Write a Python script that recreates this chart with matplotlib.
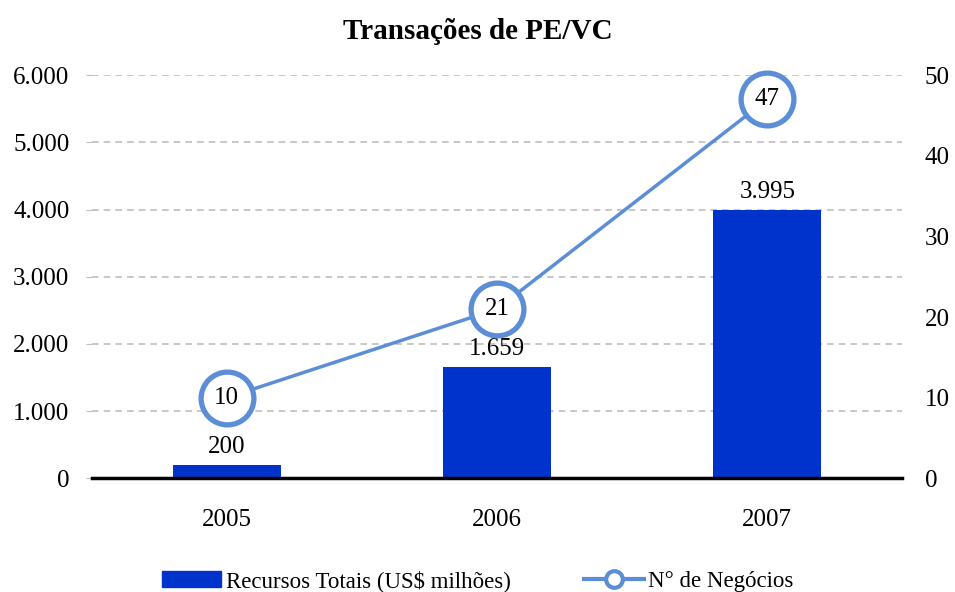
import matplotlib.pyplot as plt
from matplotlib.ticker import FuncFormatter
from matplotlib.lines import Line2D
from matplotlib.patches import Patch

plt.rcParams['font.family'] = ['Liberation Serif', 'DejaVu Serif']

anos = ["2005", "2006", "2007"]
recursos = [200, 1659, 3995]
negocios = [10, 21, 47]
recursos_labels = ["200", "1.659", "3.995"]

bar_color = "#0033CC"
line_color = "#5B8ED6"

fig = plt.figure(figsize=(9.55, 5.92), dpi=100)
ax = fig.add_axes([0.096, 0.192, 0.849, 0.681])
ax2 = ax.twinx()

x = list(range(len(anos)))
ax.bar(x, recursos, width=0.4, color=bar_color, zorder=2)
for xi, v, lab in zip(x, recursos, recursos_labels):
    ax.annotate(lab, (xi, v), xytext=(0, 5), textcoords="offset points",
                ha="center", va="bottom", fontsize=18)

ax.set_xlim(-0.5, 2.5)
ax.set_ylim(0, 6000)
ax.set_yticks(range(0, 6001, 1000))
ax.yaxis.set_major_formatter(FuncFormatter(lambda v, p: f"{int(v):,}".replace(",", ".")))
ax.set_xticks(x)
ax.set_xticklabels(anos)
ax.grid(axis="y", color="#BFBFBF", linestyle=(0, (4, 3)), linewidth=1.2, zorder=0)
ax.set_axisbelow(True)
for s in ["top", "left", "right"]:
    ax.spines[s].set_visible(False)
ax.spines["bottom"].set_linewidth(2.5)
ax.tick_params(axis="x", length=0, labelsize=18, pad=22)
ax.tick_params(axis="y", length=4, color="#BFBFBF", labelsize=18, pad=12)

ax2.plot(x, negocios, color=line_color, linewidth=2.5, marker="o", markersize=38,
         markerfacecolor="white", markeredgecolor=line_color, markeredgewidth=3.8,
         zorder=3, clip_on=False)
for xi, v in zip(x, negocios):
    ax2.text(xi, v, str(v), ha="center", va="center", fontsize=18, zorder=4)
ax2.set_ylim(0, 50)
ax2.set_yticks(range(0, 51, 10))
for s in ["top", "left", "right", "bottom"]:
    ax2.spines[s].set_visible(False)
ax2.tick_params(axis="y", length=0, labelsize=18, pad=16)

fig.suptitle("Transações de PE/VC", fontsize=21, fontweight="bold", y=0.97)

handles = [Patch(color=bar_color),
           Line2D([0], [0], color=line_color, linewidth=3, marker="o", markersize=12,
                  markerfacecolor="white", markeredgecolor=line_color, markeredgewidth=3)]
fig.legend(handles, ["Recursos Totais (US$ milhões)", "N° de Negócios"],
           loc="lower center", bbox_to_anchor=(0.5, -0.035), ncol=2, frameon=False,
           fontsize=16.5, handlelength=2.6, handleheight=0.7, columnspacing=3.2,
           handletextpad=0.2)

fig.savefig("out.png", dpi=100)
